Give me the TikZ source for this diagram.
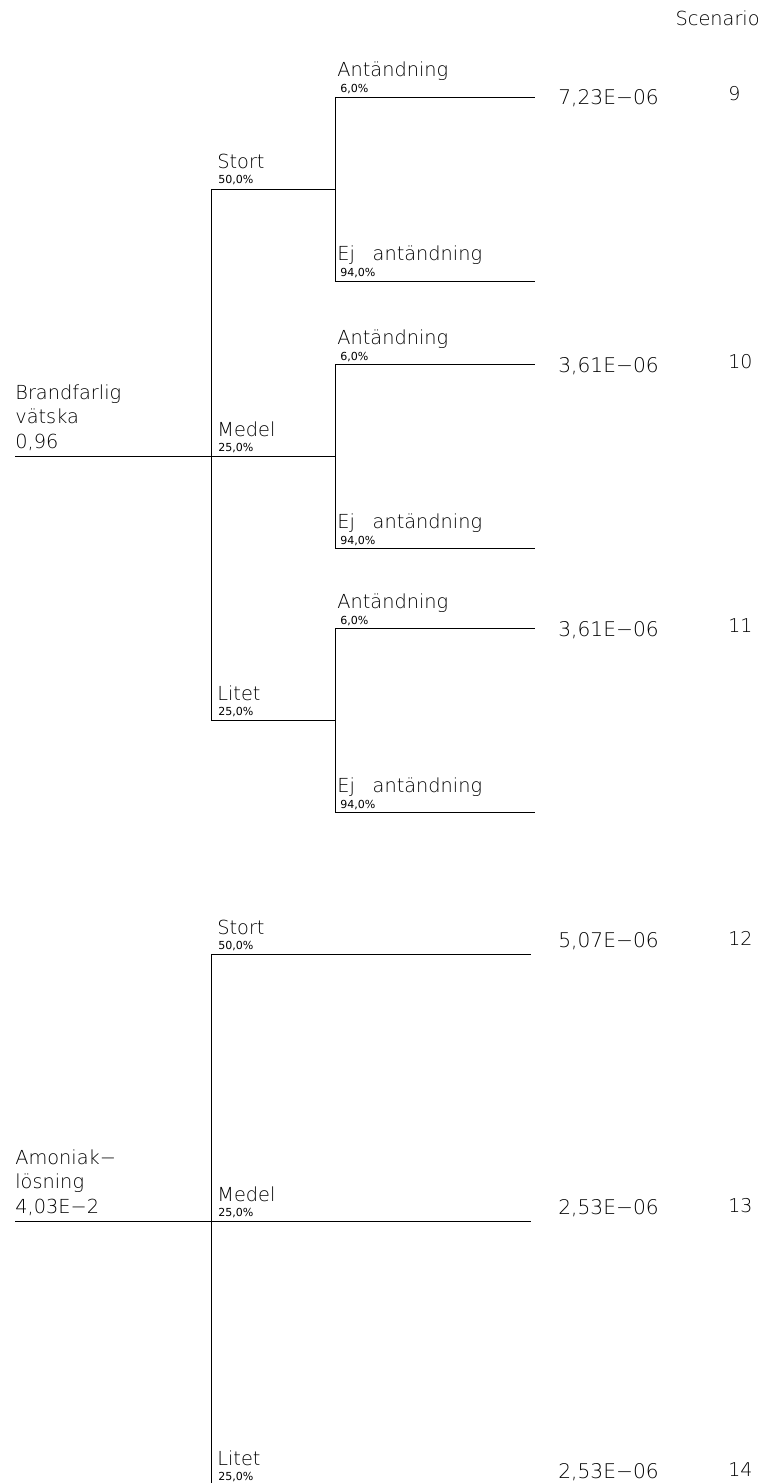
\documentclass[tikz,border=0pt]{standalone}
\usepackage{fontspec}
\setmainfont{DejaVu Sans ExtraLight}
\newfontfamily\pctfont{DejaVu Sans}
\tikzset{
	branch/.style={line width=0.5pt},
	lbl/.style={inner sep=0pt,anchor=base west,font=\fontsize{11}{12.5}\selectfont},
	pct/.style={inner sep=0pt,anchor=base west,font=\pctfont\fontsize{6.3}{7}\selectfont},
	freq/.style={inner sep=0pt,anchor=base west,font=\fontsize{11.5}{13}\selectfont},
	scen/.style={inner sep=0pt,anchor=base west,font=\fontsize{10.8}{12}\selectfont}
}
\begin{document}
\begin{tikzpicture}[x=0.02cm,y=-0.02cm]
	\useasboundingbox (0,0) rectangle (761,1483);
	\node[lbl,anchor=base east] (scn) at (760,26) {Scenario};
	% brandfarlig vaetska
	\coordinate (b0) at (15,456);
	\coordinate (b1) at (211,456);
	\coordinate (bt) at (211,189);
	\coordinate (bb) at (211,720);
	\node[lbl,anchor=north west,align=left] (bv) at (15,384) {Brandfarlig\\[1.5pt]vätska\\[1.5pt]0,96};
	\draw[branch] (b0)--(b1) (bt)--(bb);
	\foreach \typ/\yy/\pr/\sc/\frq in {Stort/189/{50,0\%}/9/{7,23E−06},
		Medel/456/{25,0\%}/10/{3,61E−06},Litet/720/{25,0\%}/11/{3,61E−06}}{
		\coordinate (s\sc) at (211,\yy);
		\coordinate (t\sc) at (335,\yy);
		\coordinate (a\sc) at (335,\yy-92);
		\coordinate (e\sc) at (335,\yy+92);
		\coordinate (ae\sc) at (535,\yy-92);
		\coordinate (ee\sc) at (535,\yy+92);
		\draw[branch] (s\sc)--(t\sc) (a\sc)--(e\sc) (a\sc)--(ae\sc) (e\sc)--(ee\sc);
		\node[lbl] (n\sc) at (217,\yy-20) {\typ};
		\node[pct] (p\sc) at (218,\yy-5) {\pr};
		\node[lbl] (an\sc) at (337,\yy-92-20) {Antändning};
		\node[pct] (ap\sc) at (340,\yy-92-4) {6,0\%};
		\node[lbl] (en\sc) at (337,\yy+92-20) {Ej\hspace{0.6em} antändning};
		\node[pct] (ep\sc) at (340,\yy+92-4) {94,0\%};
		\node[freq] (f\sc) at (558,\yy-92+8) {\frq};
		\node[scen] (sc\sc) at (728,\yy-92+4) {\sc};
	}
	% ammoniakloesning
	\coordinate (c0) at (15,1221);
	\coordinate (c1) at (211,1221);
	\coordinate (ct) at (211,954);
	\coordinate (cb) at (211,1485);
	\node[lbl,anchor=north west,align=left] (al) at (15,1149) {Amoniak−\\[1.5pt]lösning\\[1.5pt]4,03E−2};
	\draw[branch] (c0)--(c1) (ct)--(cb);
	\foreach \typ/\yy/\pr/\sc/\frq in {Stort/954/{50,0\%}/12/{5,07E−06},
		Medel/1221/{25,0\%}/13/{2,53E−06},Litet/1485/{25,0\%}/14/{2,53E−06}}{
		\coordinate (s\sc) at (211,\yy);
		\coordinate (t\sc) at (531,\yy);
		\draw[branch] (s\sc)--(t\sc);
		\node[lbl] (n\sc) at (217,\yy-20) {\typ};
		\node[pct] (p\sc) at (218,\yy-5) {\pr};
		\node[freq] (f\sc) at (558,\yy-7) {\frq};
		\node[scen] (sc\sc) at (728,\yy-9) {\sc};
	}
\end{tikzpicture}
\end{document}
